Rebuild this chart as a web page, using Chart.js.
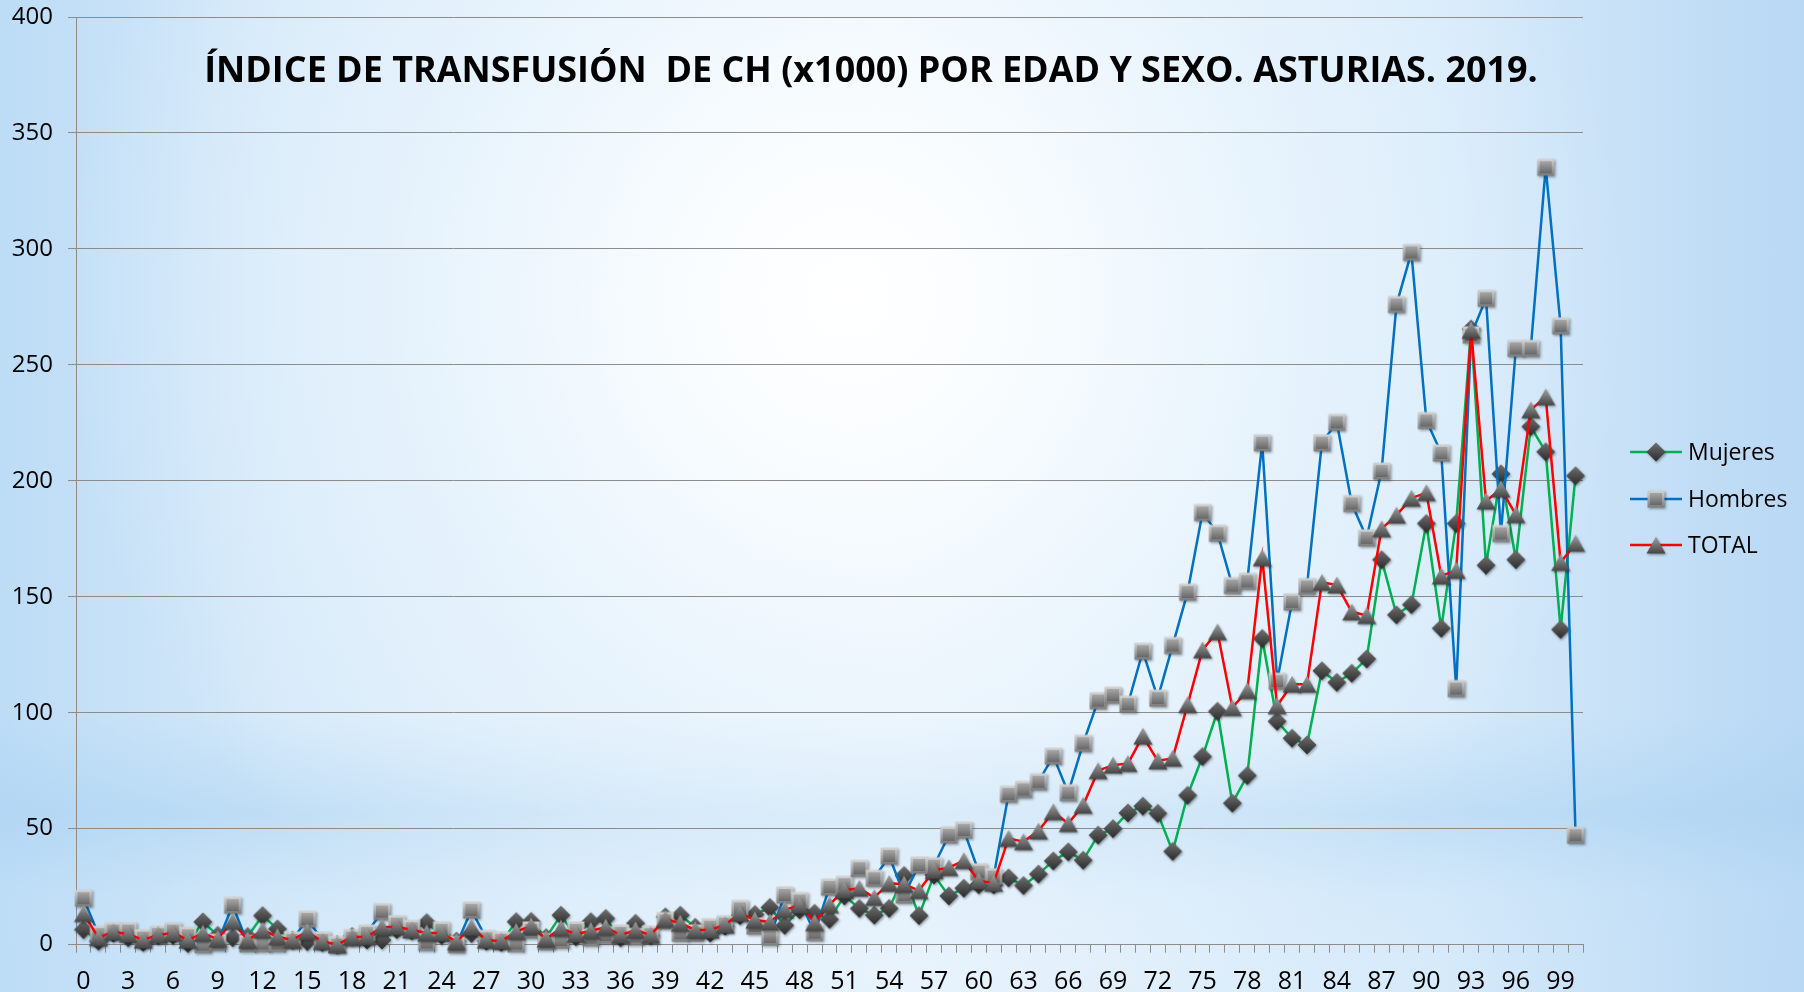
<!DOCTYPE html>
<html>
<head>
<meta charset="utf-8">
<script src="https://cdn.jsdelivr.net/npm/chart.js@4.4.0/dist/chart.umd.min.js"></script>
<style>
html, body { margin:0; padding:0; width:1804px; height:992px; overflow:hidden; }
body {
  background:
    radial-gradient(circle at 47% 30%, rgba(255,255,255,1) 0px, rgba(250,253,255,0.95) 160px, rgba(236,246,253,0.6) 460px, rgba(236,246,253,0) 780px),
    linear-gradient(to bottom, rgba(0,0,0,0) 0%, rgba(0,0,0,0) 72%, rgba(165,207,240,0.45) 82%, rgba(190,222,246,0.15) 90%, rgba(0,0,0,0) 97%),
    linear-gradient(to right, #bddcf6 0%, #d5e9f9 16%, #e7f2fc 50%, #d6eafa 80%, #b9d8f4 100%);
}
#wrap { position:relative; width:1804px; height:992px; }
canvas { display:block; }
</style>
</head>
<body>
<div id="wrap"><canvas id="c" width="1804" height="992"></canvas></div>
<script>
// ---- Data ----
const ages = ['0','1','2','3','4','5','6','7','8','9','10','11','12','13','14','15','16','17','18','19',
  '20','21','22','23','24','25','26','27','28','29','30','31','32','33','34','35','36','37','38','39',
  '40','41','42','43','44','45','46','47','48','49','50','51','52','53','54','55','56','57','58','59',
  '60','61','62','63','64','65','66','67','68','69','70','71','72','73','74','75','76','77','78','79',
  '80','81','82','83','84','85','86','87','88','89','90','91','92','93','94','95','96','97','98','99','100'];

const xTickLabels = ['0','3','6','9','12','15','18','21','24','27','30','33','36','39','42','45','48',
  '51','54','57','60','63','66','69','72','75','78','81','84','87','90','93','96','99'];

const yTicks = [0, 50, 100, 150, 200, 250, 300, 350, 400];

const mujeres = [
  6.5,1.5,5,3,1,4,4,0.5,9.8,4,
  3,3.5,12.5,6.8,2,1.3,1,0,3.5,2,
  2,6.5,6,9.5,4,1.5,4.8,1.5,1,9.9,
  10,3,12.7,3.4,9.9,11.3,3,9.2,4,12,
  12.7,7.5,5,8,12.5,13,16,8.3,15,13.5,
  10.9,21,15.6,12.7,15.6,29.8,12.5,30,21,24.3,
  25.8,25.8,28.8,25.5,30.4,36.1,40,36.4,47.2,50,
  56.8,59.7,56.6,40.2,64.4,81.1,100.6,61,72.9,132,
  96.3,89,86.1,118.1,113.1,117,123.2,166,142.2,146.6,
  181.6,136.4,181.6,265.5,163.6,203,166,223.4,212.5,135.9,202.2];

const hombres = [
  20,4.5,6,6,3,4.5,6,4,0,1,
  17,0.5,0.5,0.5,2,11,2,0,3,5,
  14.2,9,7,1,6.3,0,14.9,2.7,2,0.5,
  6.3,1.3,2,6.3,3,4.1,5,3.5,4.5,10.4,
  4.9,5,7.7,9,15.6,8,3.3,21.4,19,5.2,
  24.8,26,32.9,28.6,38.2,21.4,34.3,34,47.3,49.4,
  31.4,29.3,64.9,66.9,70.2,81.3,65.5,86.8,105.2,107.6,
  103.7,126.5,106.3,129,152,186.3,177.4,154.8,156.7,216.4,
  113.6,147.8,154.4,216.4,225.2,190.2,175.4,204.2,276,298.5,
  226,212,110.4,262.9,278.7,177.3,257.1,257.1,335.2,266.8,47.2];

const total = [
  13.4,3,5.5,4.5,2,4.2,5,2,4.8,2.5,
  10,2,6.2,3.4,2,5.6,1.3,0,3.3,3.4,
  7.5,7.7,6.3,5,5,1.3,7.5,2,1.5,5.6,
  8,2.5,7,4.5,6,7.5,4.1,6.3,4.1,11,
  9.2,6.3,6.3,8.5,13.5,10.6,9.7,15,17,9.5,
  17.2,23.5,24.3,20.3,26.4,26,23.3,32,33.2,36.2,
  27.5,26.5,45.8,44.4,49,57.3,52.2,60.1,75,77.4,
  78.1,89.9,79.2,80.4,103.5,127.1,134.9,102.2,109.5,166.8,
  103,112.3,112.3,156.2,155.1,143.5,141.9,179.3,185.2,192.5,
  194.9,159,161.4,265,191.3,196.5,185.4,230.6,236.2,164.8,173.1];

const seriesNames = ['Mujeres', 'Hombres', 'TOTAL'];
const titleText = 'ÍNDICE DE TRANSFUSIÓN  DE CH (x1000) POR EDAD Y SEXO. ASTURIAS. 2019.';

// ---- Marker images ----
function mk(w, h, draw) {
  const c = document.createElement('canvas');
  c.width = w; c.height = h;
  const g = c.getContext('2d');
  draw(g);
  return c;
}
const squareImg = mk(26, 26, g => {
  g.save();
  g.shadowColor = 'rgba(0,0,0,0.35)'; g.shadowBlur = 2.5; g.shadowOffsetX = 1; g.shadowOffsetY = 1.5;
  let gr = g.createLinearGradient(0, 4.5, 0, 21.5);
  gr.addColorStop(0, '#d4d4d4'); gr.addColorStop(1, '#7a7a7a');
  g.fillStyle = gr; g.fillRect(4.5, 4.5, 17, 17);
  g.restore();
  gr = g.createLinearGradient(0, 7, 0, 19);
  gr.addColorStop(0, '#a6a6a6'); gr.addColorStop(1, '#676767');
  g.fillStyle = gr; g.fillRect(7, 7, 12, 12);
});
const diamondImg = mk(28, 28, g => {
  g.shadowColor = 'rgba(0,0,0,0.35)'; g.shadowBlur = 2.5; g.shadowOffsetX = 1; g.shadowOffsetY = 1.5;
  const gr = g.createLinearGradient(0, 4.5, 0, 23.5);
  gr.addColorStop(0, '#707070'); gr.addColorStop(1, '#2a2a2a');
  g.fillStyle = gr;
  g.beginPath(); g.moveTo(14, 4.5); g.lineTo(23.5, 14); g.lineTo(14, 23.5); g.lineTo(4.5, 14); g.closePath(); g.fill();
});
const triangleImg = mk(28, 28, g => {
  g.shadowColor = 'rgba(0,0,0,0.35)'; g.shadowBlur = 2.5; g.shadowOffsetX = 1; g.shadowOffsetY = 1.5;
  const gr = g.createLinearGradient(0, 5.5, 0, 22.5);
  gr.addColorStop(0, '#a2a2a2'); gr.addColorStop(1, '#444444');
  g.fillStyle = gr;
  g.beginPath(); g.moveTo(14, 5.5); g.lineTo(23.5, 22.5); g.lineTo(4.5, 22.5); g.closePath(); g.fill();
});

const colors = ['#00b050', '#0070c0', '#ff0000'];
const markers = [diamondImg, squareImg, triangleImg];

// ---- Title + legend plugin ----
const decorPlugin = {
  id: 'decor',
  afterDraw(chart) {
    const ctx = chart.ctx;
    ctx.save();
    let fs = 34;
    ctx.font = 'bold ' + fs + 'px "Open Sans"';
    const w = ctx.measureText(titleText).width;
    fs = fs * 1334 / w;
    ctx.font = 'bold ' + fs.toFixed(2) + 'px "Open Sans"';
    ctx.fillStyle = '#000';
    ctx.textAlign = 'center';
    ctx.textBaseline = 'middle';
    ctx.fillText(titleText, 871, 72);
    const ys = [452, 499, 545];
    ctx.textAlign = 'left';
    ctx.font = '23px "Open Sans"';
    for (let i = 0; i < 3; i++) {
      ctx.strokeStyle = colors[i];
      ctx.lineWidth = 2.5;
      ctx.beginPath(); ctx.moveTo(1630, ys[i]); ctx.lineTo(1682, ys[i]); ctx.stroke();
      const m = markers[i];
      ctx.drawImage(m, 1656 - m.width / 2, ys[i] - m.height / 2);
      ctx.fillStyle = '#000';
      ctx.fillText(seriesNames[i], 1688, ys[i] + 1);
    }
    ctx.restore();
  }
};

const seriesData = [mujeres, hombres, total];
const datasets = seriesData.map((d, i) => ({
  label: seriesNames[i],
  data: d,
  borderColor: colors[i],
  backgroundColor: colors[i],
  borderWidth: 2.5,
  pointStyle: markers[i],
  pointRadius: 9,
  pointHoverRadius: 9,
  tension: 0,
  clip: false,
  order: 2 - i
}));

new Chart(document.getElementById('c'), {
  type: 'line',
  data: { labels: ages, datasets },
  plugins: [decorPlugin],
  options: {
    responsive: false,
    animation: false,
    events: [],
    layout: { padding: { left: 0, right: 221, top: 17, bottom: 0 } },
    plugins: { legend: { display: false }, tooltip: { enabled: false }, title: { display: false } },
    scales: {
      x: {
        type: 'category',
        offset: true,
        grid: { display: true, drawOnChartArea: false, drawTicks: true, tickLength: 8, color: '#8c8c8c', offset: true },
        border: { display: true, color: '#8c8c8c', width: 1 },
        ticks: {
          autoSkip: false, maxRotation: 0, minRotation: 0, padding: 14, color: '#000',
          font: { family: 'Open Sans', size: 25 },
          callback: function (value, index) {
            const lab = ages[index];
            return xTickLabels.indexOf(lab) >= 0 ? lab : '';
          }
        },
        afterFit: s => { s.height = 47.4; s.paddingLeft = 0; s.paddingRight = 0; }
      },
      y: {
        min: yTicks[0], max: yTicks[yTicks.length - 1],
        afterBuildTicks: s => { s.ticks = yTicks.map(v => ({ value: v })); },
        grid: { color: '#8c8c8c', lineWidth: 1, tickLength: 8 },
        border: { display: true, color: '#8c8c8c', width: 1 },
        ticks: { padding: 15, color: '#000', font: { family: 'Open Sans', size: 24 } },
        afterFit: s => { s.width = 76; s.paddingTop = 0; s.paddingBottom = 0; }
      }
    }
  }
});
</script>
</body>
</html>
